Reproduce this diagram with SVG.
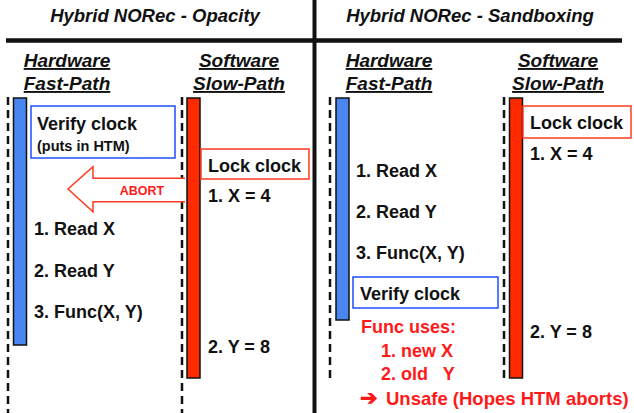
<svg xmlns="http://www.w3.org/2000/svg" width="634" height="413" viewBox="0 0 634 413">
<style>
text{font-family:"Liberation Sans",Arial,sans-serif;font-weight:bold;fill:#111;}
.title{font-size:18.5px;font-style:italic;text-anchor:middle;}
.hdr{font-size:19px;font-style:italic;text-anchor:middle;text-decoration:underline;}
.t{font-size:18px;}
.r{fill:#ff1a1a;}
.dash{stroke:#111;stroke-width:2.5;stroke-dasharray:8,5;fill:none;}
.blue{fill:#4a86f0;stroke:#111;stroke-width:1.5;}
.red{fill:#ff2a00;stroke:#111;stroke-width:1.5;}
.bbox{fill:#fff;stroke:#1f4fff;stroke-width:1.5;}
.rbox{fill:#fff;stroke:#ff3b1f;stroke-width:1.5;}
</style>
<rect width="634" height="413" fill="#fff"/>
<g id="frame">
<line x1="6" y1="40.5" x2="622" y2="40.5" stroke="#111" stroke-width="4.5"/>
<line x1="314.5" y1="0" x2="314.5" y2="413" stroke="#111" stroke-width="4"/>
</g>
<g id="titles">
<text class="title" x="155" y="22">Hybrid NORec - Opacity</text>
<text class="title" x="470" y="22">Hybrid NORec - Sandboxing</text>
</g>
<g id="headers">
<text class="hdr" x="67" y="67">Hardware</text>
<text class="hdr" x="67" y="90">Fast-Path</text>
<text class="hdr" x="239" y="67">Software</text>
<text class="hdr" x="239" y="90">Slow-Path</text>
<text class="hdr" x="389" y="67">Hardware</text>
<text class="hdr" x="389" y="90">Fast-Path</text>
<text class="hdr" x="558" y="67">Software</text>
<text class="hdr" x="558" y="90">Slow-Path</text>
</g>
<g id="lanes">
<line class="dash" x1="8" y1="97" x2="8" y2="413"/>
<line class="dash" x1="182" y1="97" x2="182" y2="413"/>
<line class="dash" x1="330" y1="97" x2="330" y2="378"/>
<line class="dash" x1="504" y1="97" x2="504" y2="378"/>
</g>
<g id="left-hw-bar"><rect class="blue" x="13.5" y="98" width="13" height="247"/></g>
<g id="left-sw-bar"><rect class="red" x="187" y="98" width="13" height="280"/></g>
<g id="right-hw-bar"><rect class="blue" x="336" y="98" width="13" height="222"/></g>
<g id="right-sw-bar"><rect class="red" x="509.5" y="98" width="13" height="280"/></g>
<g id="left-verify">
<rect class="bbox" x="31" y="106" width="144" height="52"/>
<text class="t" x="37" y="130">Verify clock</text>
<text x="37" y="151" font-size="14.5">(puts in HTM)</text>
</g>
<g id="left-lock">
<rect class="rbox" x="201" y="149" width="108" height="30"/>
<text class="t" x="208" y="172">Lock clock</text>
</g>
<g id="connectors">
<path d="M185,178.3 L93,178.3 L93,166.7 L68,189 L93,211.7 L93,201.7 L185,201.7" fill="#fff" stroke="#ff3b1f" stroke-width="1.5"/>
<text class="r" x="142" y="195" font-size="12.5" text-anchor="middle">ABORT</text>
</g>
<g id="left-sw-ops">
<text class="t" x="208" y="202">1. X = 4</text>
<text class="t" x="208" y="353">2. Y = 8</text>
</g>
<g id="left-hw-ops">
<text class="t" x="34" y="235">1. Read X</text>
<text class="t" x="34" y="277">2. Read Y</text>
<text class="t" x="34" y="318">3. Func(X, Y)</text>
</g>
<g id="right-lock">
<rect class="rbox" x="523" y="106" width="108" height="32"/>
<text class="t" x="530" y="129">Lock clock</text>
</g>
<g id="right-sw-ops">
<text class="t" x="530" y="160">1. X = 4</text>
<text class="t" x="530" y="338">2. Y = 8</text>
</g>
<g id="right-hw-ops">
<text class="t" x="356" y="177">1. Read X</text>
<text class="t" x="356" y="218">2. Read Y</text>
<text class="t" x="356" y="259">3. Func(X, Y)</text>
</g>
<g id="right-verify">
<rect class="bbox" x="353" y="277" width="145" height="31"/>
<text class="t" x="360" y="300">Verify clock</text>
</g>
<g id="note">
<text class="t r" x="361" y="333">Func uses:</text>
<text class="t r" x="381" y="357">1. new X</text>
<text class="t r" x="381" y="380" xml:space="preserve">2. old   Y</text>
<text class="r" x="360" y="405" font-size="21">➔</text>
<text class="r" x="386" y="405" font-size="18.5">Unsafe (Hopes HTM aborts)</text>
</g>
</svg>
